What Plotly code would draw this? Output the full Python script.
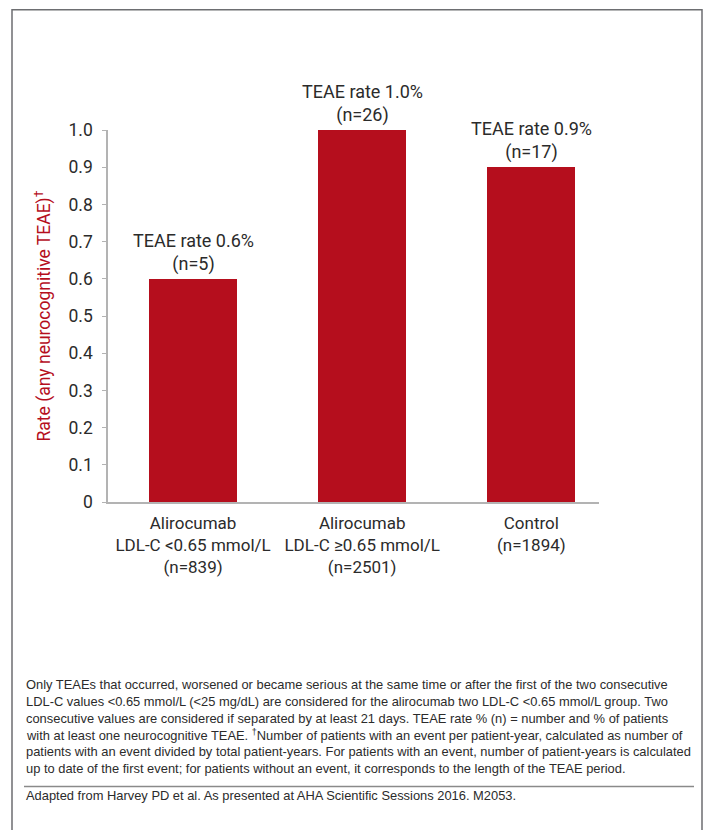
import plotly.graph_objects as go

# Data
groups = [
    "Alirocumab<br>LDL-C <0.65 mmol/L<br>(n=839)",
    "Alirocumab<br>LDL-C ≥0.65 mmol/L<br>(n=2501)",
    "Control<br>(n=1894)",
]
rates = [0.6, 1.0, 0.9]          # rate per patient-year
teae_pct = [0.6, 1.0, 0.9]       # TEAE rate %
teae_n = [5, 26, 17]
y_ticks = [0, 0.1, 0.2, 0.3, 0.4, 0.5, 0.6, 0.7, 0.8, 0.9, 1.0]

W, H = 706, 830
# plot area in pixels
PL, PR, PT, PB = 108, 599, 129.5, 502

def px_x(p):
    return (p - PL) / (PR - PL)

def px_y(p):
    return (PB - p) / (PB - PT)

RED = "#b50e1d"
TXT = "#2b2b2b"
FONT = "Roboto"

xpos = [0, 1, 2]

fig = go.Figure()
fig.add_trace(go.Bar(
    x=xpos, y=rates, width=0.52,
    marker=dict(color=RED, line=dict(width=0)),
    hoverinfo="skip", showlegend=False,
))

# value labels above each bar
for x, v, pct, n in zip(xpos, rates, teae_pct, teae_n):
    fig.add_annotation(
        x=x, y=v, xref="x", yref="y",
        text=f"TEAE rate {pct:.1f}%<br>(n={n})",
        showarrow=False, yanchor="bottom", yshift=2,
        font=dict(family=FONT, size=18, color=TXT), align="center",
    )

footnote = [
    "Only TEAEs that occurred, worsened or became serious at the same time or after the first of the two consecutive",
    "LDL-C values <0.65 mmol/L (<25 mg/dL) are considered for the alirocumab two LDL-C <0.65 mmol/L group. Two",
    "consecutive values are considered if separated by at least 21 days. TEAE rate % (n) = number and % of patients",
    "with at least one neurocognitive TEAE. <sup>†</sup>Number of patients with an event per patient-year, calculated as number of",
    "patients with an event divided by total patient-years. For patients with an event, number of patient-years is calculated",
    "up to date of the first event; for patients without an event, it corresponds to the length of the TEAE period.",
]
line_y = [685, 702, 718.7, 735.4, 752, 768.6]
for txt, yy in zip(footnote, line_y):
    fig.add_annotation(
        x=px_x(24), y=px_y(yy), xref="paper", yref="paper",
        text=txt, showarrow=False, xanchor="left", yanchor="middle",
        font=dict(family="Liberation Sans", size=12.9, color=TXT),
    )

fig.add_annotation(
    x=px_x(24), y=px_y(796), xref="paper", yref="paper",
    text="Adapted from Harvey PD et al. As presented at AHA Scientific Sessions 2016. M2053.",
    showarrow=False, xanchor="left", yanchor="middle",
    font=dict(family="Liberation Sans", size=12.9, color=TXT),
)

# outer frame (open at the bottom) and separator rule
fig.add_shape(type="path", xref="paper", yref="paper",
              path=f"M {px_x(12)},{px_y(840)} L {px_x(12)},{px_y(9)} L {px_x(702)},{px_y(9)} L {px_x(702)},{px_y(840)}",
              line=dict(color="#6d6e71", width=1.5))
fig.add_shape(type="line", xref="paper", yref="paper",
              x0=px_x(24), x1=px_x(694), y0=px_y(787), y1=px_y(787),
              line=dict(color="#8a8a8a", width=1.5))

fig.update_layout(
    width=W, height=H,
    margin=dict(l=PL, r=W - PR, t=PT, b=H - PB, pad=0),
    paper_bgcolor="white", plot_bgcolor="white",
    bargap=0,
    font=dict(family=FONT, size=16, color=TXT),
)
fig.update_xaxes(
    tickmode="array", tickvals=xpos, ticktext=groups,
    range=[-0.503, 2.40],
    showline=True, linecolor="#b3b3b3", linewidth=1.5,
    ticks="", showgrid=False, zeroline=False,
    tickfont=dict(family=FONT, size=17, color=TXT),
    ticklabelstandoff=5,
)
fig.update_yaxes(
    range=[0, 1.0], tickvals=y_ticks,
    ticktext=["0"] + [f"{t:.1f}" for t in y_ticks[1:]],
    showline=True, linecolor="#b3b3b3", linewidth=1.5,
    ticks="outside", ticklen=4, tickcolor="#b3b3b3", tickwidth=1,
    showgrid=False, zeroline=False,
    tickfont=dict(family=FONT, size=17.5, color=TXT),
    ticklabelstandoff=6,
    title=dict(text="Rate (any neurocognitive TEAE)<sup>†</sup>",
               font=dict(family=FONT, size=17.5, color=RED), standoff=13),
)

fig.write_html("out.html")
